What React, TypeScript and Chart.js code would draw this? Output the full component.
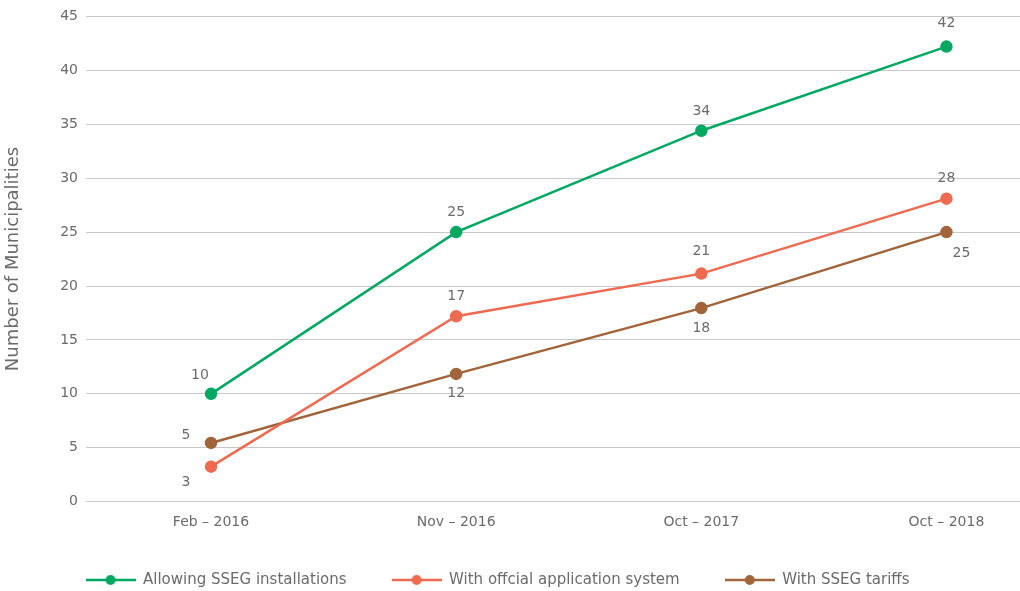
import React, { useEffect, useRef } from "react";
import { Chart, registerables } from "chart.js";

Chart.register(...registerables);

const categories = ["Feb – 2016", "Nov – 2016", "Oct – 2017", "Oct – 2018"];
const allowingSSEG = [10, 25, 34.4, 42.2];
const officialApplication = [3.25, 17.2, 21.15, 28.1];
const ssegTariffs = [5.45, 11.85, 17.95, 25];
const yTicks = [0, 5, 10, 15, 20, 25, 30, 35, 40, 45];

const seriesNames = [
  "Allowing SSEG installations",
  "With offcial application system",
  "With SSEG tariffs",
];
const colors = ["#00A862", "#EE6A50", "#A2643A"];

// label offsets (style): [dx, dy] per point
const labelOffsets = [
  [[-11, -18], [0, -20], [0, -19], [0, -23]],
  [[-25, 16], [0, -20], [0, -22], [0, -20]],
  [[-25, -8], [0, 19], [0, 20], [15, 21]],
];

const FONT = "'DejaVu Sans', sans-serif";
const TEXT = "#6b6b6b";

function makeIcon(color: string) {
  const c = document.createElement("canvas");
  c.width = 50;
  c.height = 12;
  const ctx = c.getContext("2d")!;
  ctx.strokeStyle = color;
  ctx.lineWidth = 2.5;
  ctx.beginPath();
  ctx.moveTo(0, 6);
  ctx.lineTo(50, 6);
  ctx.stroke();
  ctx.fillStyle = color;
  ctx.beginPath();
  ctx.arc(25, 6, 5, 0, Math.PI * 2);
  ctx.fill();
  return c;
}

const labelPlugin = {
  id: "valueLabels",
  afterLayout(chart: any) {
    if (chart.legend) {
      chart.legend.left -= 12.5;
      chart.legend.right -= 12.5;
    }
  },
  afterDatasetsDraw(chart: any) {
    const ctx = chart.ctx;
    ctx.save();
    ctx.font = `14px ${FONT}`;
    ctx.fillStyle = TEXT;
    ctx.textAlign = "center";
    ctx.textBaseline = "middle";
    chart.data.datasets.forEach((ds: any, di: number) => {
      const meta = chart.getDatasetMeta(di);
      meta.data.forEach((pt: any, i: number) => {
        const v = ds.data[i].y;
        const [dx, dy] = labelOffsets[di][i];
        ctx.fillText(String(Math.round(v)), pt.x + dx, pt.y + dy);
      });
    });
    ctx.restore();
  },
};

export default function App() {
  const ref = useRef<HTMLCanvasElement>(null);
  useEffect(() => {
    const series = [allowingSSEG, officialApplication, ssegTariffs];
    const icons = colors.map(makeIcon);
    const chart = new Chart(ref.current!, {
      type: "line",
      data: {
        datasets: series.map((s, di) => ({
          label: seriesNames[di],
          data: s.map((y, i) => ({ x: i, y })),
          borderColor: colors[di],
          backgroundColor: colors[di],
          borderWidth: 2.5,
          pointRadius: 5,
          pointHoverRadius: 5,
          pointStyle: "circle",
          tension: 0,
        })),
      },
      options: {
        animation: false,
        responsive: false,
        maintainAspectRatio: false,
        layout: { autoPadding: false, padding: { top: 7, right: 0, left: 0, bottom: -6.5 } },
        scales: {
          x: {
            type: "linear",
            min: -0.51,
            max: 3.3,
            afterBuildTicks: (scale: any) => {
              scale.ticks = categories.map((_, i) => ({ value: i }));
            },
            afterFit: (scale: any) => {
              scale.height -= 7;
              scale.paddingLeft = 0;
              scale.paddingRight = 0;
            },
            ticks: {
              callback: (v: any) => categories[v as number] ?? "",
              color: TEXT,
              font: { family: FONT, size: 14 },
              padding: 4,
              maxRotation: 0,
              autoSkip: false,
            },
            grid: { display: false },
            border: { display: false },
          },
          y: {
            min: 0,
            max: 45,
            afterBuildTicks: (scale: any) => {
              scale.ticks = yTicks.map((v) => ({ value: v }));
            },
            afterFit: (scale: any) => {
              scale.width = 86;
            },
            ticks: {
              color: TEXT,
              font: { family: FONT, size: 14 },
              padding: 8,
            },
            grid: { color: "#c8c8c8", lineWidth: 1, drawTicks: false },
            border: { display: false },
            title: {
              display: true,
              text: "Number of Municipalities",
              color: TEXT,
              font: { family: FONT, size: 18 },
              padding: { top: 3, bottom: 0 },
            },
          },
        },
        plugins: {
          legend: {
            position: "bottom",
            labels: {
              usePointStyle: true,
              pointStyleWidth: 50,
              color: TEXT,
              font: { family: FONT, size: 15 },
              padding: 45,
              generateLabels: (chart: any) =>
                chart.data.datasets.map((ds: any, i: number) => ({
                  text: ds.label,
                  fillStyle: colors[i],
                  strokeStyle: colors[i],
                  lineWidth: 0,
                  pointStyle: icons[i],
                  fontColor: TEXT,
                  hidden: false,
                  datasetIndex: i,
                })),
            },
          },
          tooltip: { enabled: false },
        },
      },
      plugins: [labelPlugin],
    });
    return () => chart.destroy();
  }, []);
  return (
    <div style={{ position: "fixed", left: 0, top: 0, width: 1020, height: 591, background: "#fff" }}>
      <canvas ref={ref} width={1020} height={591} style={{ width: 1020, height: 591 }} />
    </div>
  );
}
